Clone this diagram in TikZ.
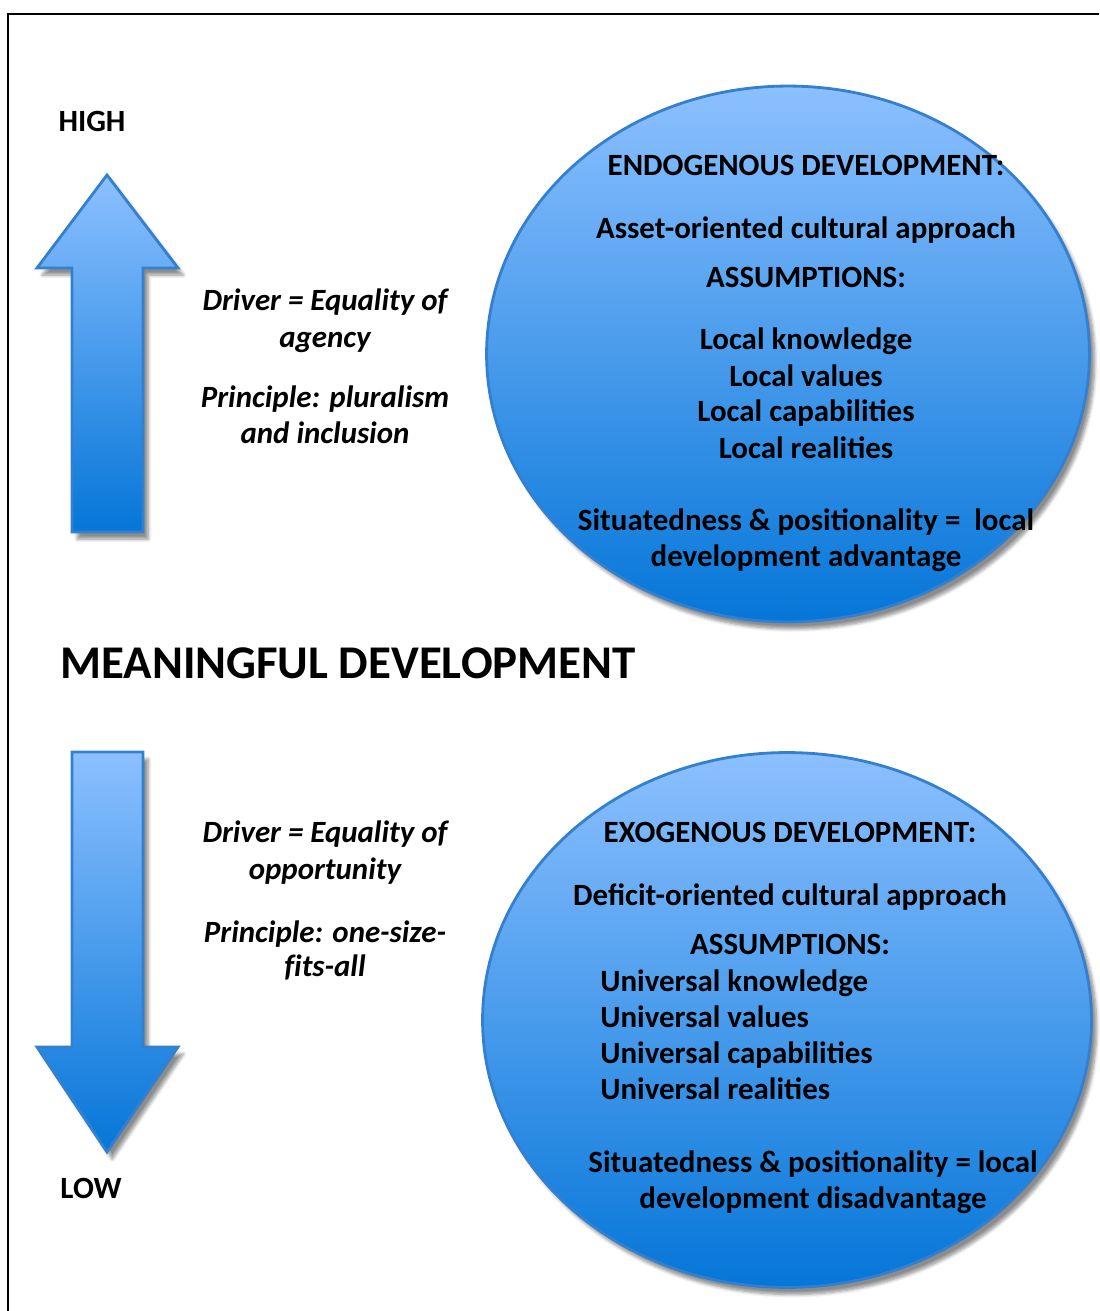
\documentclass[tikz,border=0pt]{standalone}
\usepackage{fontspec}
\setmainfont{Carlito}
\usetikzlibrary{shapes.geometric,shadows.blur}

\definecolor{blobtop}{RGB}{140,192,255}
\definecolor{blobbot}{RGB}{5,118,216}
\definecolor{blobline}{RGB}{52,128,206}
\newcommand{\nolig}{\kern0pt}

\begin{document}
\begin{tikzpicture}[x=0.02cm,y=-0.02cm]
\tikzset{
  blob/.style={ellipse,draw=blobline,line width=1.6pt,top color=blobtop,bottom color=blobbot,
    blur shadow={shadow xshift=3pt,shadow yshift=-4pt,shadow blur steps=6,shadow opacity=45}},
  bigarrow/.style={draw=blobline,line width=1.6pt,top color=blobtop,bottom color=blobbot,
    blur shadow={shadow xshift=3pt,shadow yshift=-4pt,shadow blur steps=6,shadow opacity=45}},
  txt/.style={font=\fontsize{17.6}{21}\selectfont\bfseries,inner sep=0pt,anchor=base},
  itxt/.style={txt,font=\fontsize{17.6}{21}\selectfont\bfseries\itshape}
}
\useasboundingbox (0,0) rectangle (1099,1311);
\draw [black,line width=1.3pt] (8,1311) -- (8,14) -- (1099,14);
\path [bigarrow] (107,175) -- (178,268) -- (143,268) -- (143,532) -- (72,532) -- (72,268) -- (37,268) -- cycle;
\path [bigarrow] (72,752) -- (143,752) -- (143,1047) -- (178,1047) -- (107,1152) -- (37,1047) -- (72,1047) -- cycle;
\node [blob,minimum width=12.06cm,minimum height=10.72cm] (endo) at (788,354) {};
\node [blob,minimum width=12.18cm,minimum height=10.7cm] (exo) at (787,1020) {};
\node [txt] (high) at (92,132) {HIGH};
\node [txt] (low) at (91,1198) {LOW};
\node [txt,font=\fontsize{26.7}{30}\selectfont\bfseries] (meaning) at (348,678) {MEANINGFUL DEVELOPMENT};
\node [itxt] (drvA) at (325,310) {Driver = Equality of};
\node [itxt] (drvB) at (325,347) {agency};
\node [itxt] (prnA) at (325,407) {Principle: pluralism};
\node [itxt] (prnB) at (325,443) {and inclusion};
\node [itxt] (drvC) at (325,842) {Driver = Equality of};
\node [itxt] (drvD) at (325,879) {opportunity};
\node [itxt] (prnC) at (325,942) {Principle: one-size-};
\node [itxt] (prnD) at (325,976) {f\nolig its-all};
\node [txt] (endoA) at (806,176) {ENDOGENOUS DEVELOPMENT:};
\node [txt] (endoB) at (806,238) {Asset-oriented cultural approach};
\node [txt] (endoC) at (806,287) {ASSUMPTIONS:};
\node [txt] (endoD) at (806,349) {Local knowledge};
\node [txt] (endoE) at (806,386) {Local values};
\node [txt] (endoF) at (806,421) {Local capabili\nolig ties};
\node [txt] (endoG) at (806,458) {Local reali\nolig ties};
\node [txt] (endoH) at (806,530) {Situatedness \& positionality =\ \ local};
\node [txt] (endoI) at (806,566) {development advantage};
\node [txt] (exoA) at (790,842) {EXOGENOUS DEVELOPMENT:};
\node [txt] (exoB) at (790,905) {Defi\nolig cit-oriented cultural approach};
\node [txt] (exoC) at (790,954) {ASSUMPTIONS:};
\node [txt,anchor=base west] (exoD) at (600,991) {Universal knowledge};
\node [txt,anchor=base west] (exoE) at (600,1027) {Universal values};
\node [txt,anchor=base west] (exoF) at (600,1063) {Universal capabili\nolig ties};
\node [txt,anchor=base west] (exoG) at (600,1099) {Universal reali\nolig ties};
\node [txt] (exoH) at (813,1172) {Situatedness \& positionality = local};
\node [txt] (exoI) at (813,1208) {development disadvantage};
\end{tikzpicture}
\end{document}
